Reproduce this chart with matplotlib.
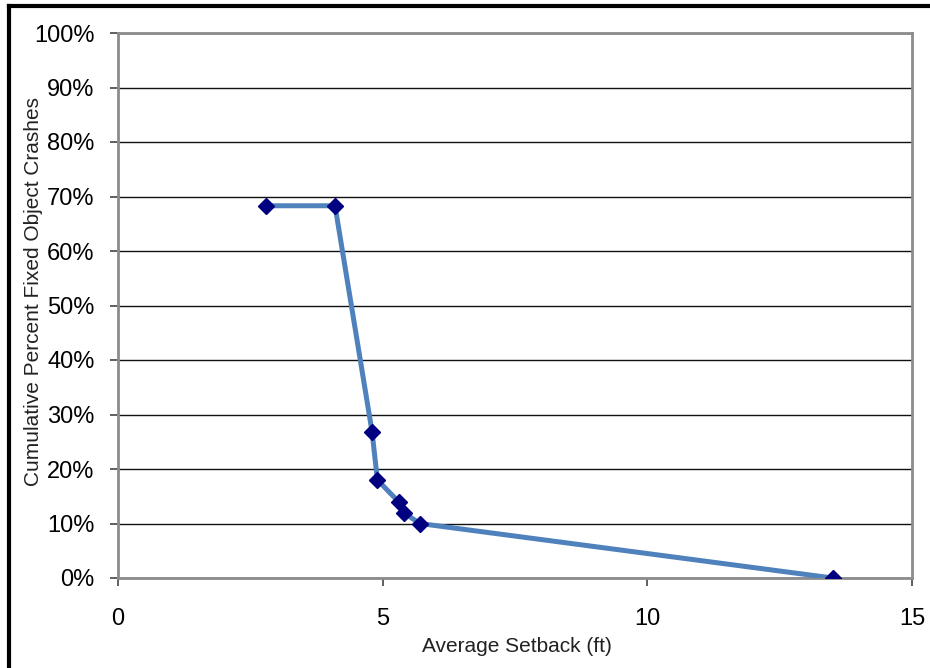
import matplotlib.pyplot as plt
from matplotlib.ticker import FuncFormatter
from matplotlib.lines import Line2D

plt.rcParams['font.family'] = ['Liberation Sans', 'DejaVu Sans']

# data
setback = [2.8, 4.1, 4.8, 4.9, 5.3, 5.4, 5.7, 13.5]
cum_pct = [68.3, 68.3, 26.8, 18.0, 14.0, 12.0, 10.0, 0.0]

fig = plt.figure(figsize=(9.3, 6.68), dpi=100)
ax = fig.add_axes([118 / 930, 90 / 668, 794 / 930, 545 / 668])

ax.plot(setback, cum_pct, color="#4F81BD", linewidth=3.6, zorder=3)
ax.plot(setback, cum_pct, linestyle="none", marker="D", markersize=8,
        color="#000080", zorder=4)

ax.set_xlim(0, 15)
ax.set_ylim(0, 100)
ax.set_xticks([0, 5, 10, 15])
ax.set_yticks(range(0, 101, 10))
ax.yaxis.set_major_formatter(FuncFormatter(lambda v, p: f"{int(v)}%"))
ax.grid(axis="y", color="#111111", linewidth=1.0)
ax.set_axisbelow(True)

for s in ax.spines.values():
    s.set_color("#8c8c8c")
    s.set_linewidth(2.0)
ax.tick_params(direction="out", length=5.8, width=1.2, color="#444444",
               labelsize=17)
ax.tick_params(axis="y", pad=11)
ax.tick_params(axis="x", pad=16)

ax.set_xlabel("Average Setback (ft)", fontsize=15, color="#222222")
ax.set_ylabel("Cumulative Percent Fixed Object Crashes", fontsize=15,
              color="#222222")
ax.xaxis.set_label_coords(0.503, -0.108)
ax.yaxis.set_label_coords(-0.095, 0.525)

# outer chart border (top and left visible)
fig.add_artist(Line2D([9 / 930, 1], [1 - 6 / 668, 1 - 6 / 668],
                      transform=fig.transFigure, color="black", linewidth=3))
fig.add_artist(Line2D([9 / 930, 9 / 930], [0, 1 - 6 / 668],
                      transform=fig.transFigure, color="black", linewidth=3))

fig.savefig("out.png", dpi=100)
